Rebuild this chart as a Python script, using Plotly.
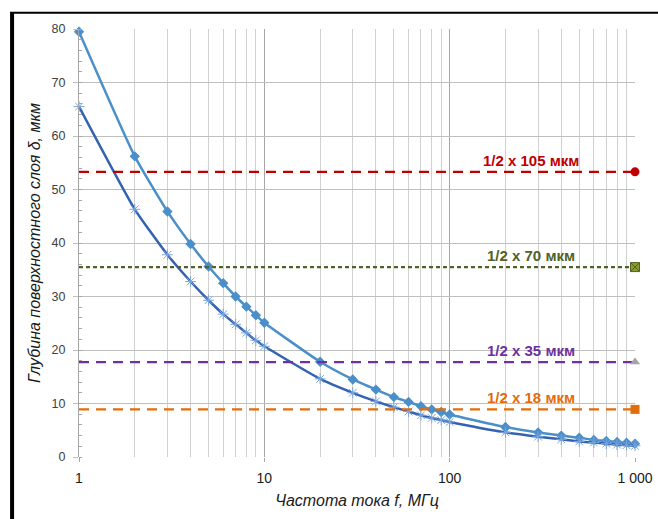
import plotly.graph_objects as go
import math

freq = [1, 2, 3, 4, 5, 6, 7, 8, 9, 10, 20, 30, 40, 50, 60, 70, 80, 90, 100,
        200, 300, 400, 500, 600, 700, 800, 900, 1000]
depth_light = [79.5, 56.2, 45.9, 39.8, 35.6, 32.5, 30.0, 28.1, 26.5, 25.1,
               17.8, 14.5, 12.6, 11.2, 10.3, 9.5, 8.9, 8.4, 7.95,
               5.6, 4.6, 4.0, 3.6, 3.2, 3.0, 2.8, 2.65, 2.5]
depth_dark = [65.5, 46.3, 37.8, 32.8, 29.3, 26.7, 24.8, 23.2, 21.8, 20.7,
              14.6, 12.0, 10.4, 9.3, 8.5, 7.8, 7.3, 6.9, 6.55,
              4.6, 3.8, 3.3, 2.9, 2.7, 2.5, 2.3, 2.2, 2.1]

ref_labels = ["1/2 x 105 мкм", "1/2 x 70 мкм", "1/2 x 35 мкм", "1/2 x 18 мкм"]
ref_values = [53.3, 35.5, 17.75, 8.9]
ref_colors = ["#C00000", "#4F6228", "#7030A0", "#E46C0A"]
ref_marker_symbols = ["circle", "square-x", "triangle-up", "square"]
ref_marker_colors = ["#C00000", "#8C9A2A", "#A5A5A5", "#E46C0A"]
ref_dashlen = ["10px,7px", "4px,3px", "10px,7px", "10px,7px"]

x_tick_vals = [1, 10, 100, 1000]
x_tick_text = ["1", "10", "100", "1 000"]
y_tick_vals = [0, 10, 20, 30, 40, 50, 60, 70, 80]

fig = go.Figure()

fig.add_trace(go.Scatter(
    x=freq, y=depth_light, mode="lines+markers",
    line=dict(color="#4A8FC9", width=2.5, shape="spline", smoothing=0.5),
    marker=dict(symbol="diamond", size=8, color="#4A8FC9"),
    showlegend=False, cliponaxis=False))
fig.add_trace(go.Scatter(
    x=freq, y=depth_dark, mode="lines+markers",
    line=dict(color="#3462B2", width=2.5, shape="spline", smoothing=0.5),
    marker=dict(symbol="asterisk-open", size=9, color="#7AA6DE",
                line=dict(color="#7AA6DE", width=1)),
    showlegend=False, cliponaxis=False))

for lab, val, col, sym, mcol, dl in zip(ref_labels, ref_values, ref_colors,
                                         ref_marker_symbols, ref_marker_colors,
                                         ref_dashlen):
    fig.add_trace(go.Scatter(
        x=[freq[0], freq[-1]], y=[val, val], mode="lines",
        line=dict(color=col, width=2.2, dash=dl),
        showlegend=False, cliponaxis=False))
    mline = dict(color="#4F6228", width=1) if sym == "square-x" else dict(width=0)
    fig.add_trace(go.Scatter(
        x=[freq[-1]], y=[val], mode="markers",
        marker=dict(symbol=sym, size=9, color=mcol, line=mline),
        showlegend=False, cliponaxis=False))
    fig.add_annotation(
        x=math.log10(275), y=val, xref="x", yref="y", text="<b>" + lab + "</b>",
        showarrow=False, yanchor="bottom", yshift=1,
        font=dict(family="Liberation Sans, Arial", size=15, color=col))

# outer frame (left and top border)
fig.add_shape(type="line", xref="paper", yref="paper",
              x0=(12 - 79) / 556.6, x1=(12 - 79) / 556.6,
              y0=(456.7 - 13) / 427.4, y1=(456.7 - 525) / 427.4,
              line=dict(color="black", width=4))
fig.add_shape(type="line", xref="paper", yref="paper",
              x0=(10 - 79) / 556.6, x1=(665 - 79) / 556.6,
              y0=(456.7 - 13) / 427.4, y1=(456.7 - 13) / 427.4,
              line=dict(color="black", width=2))

fig.update_layout(
    width=658, height=519,
    margin=dict(l=79, r=23, t=29, b=62),
    paper_bgcolor="white", plot_bgcolor="white",
    font=dict(family="Liberation Sans, Arial", color="#404040"),
    xaxis=dict(
        type="log", range=[0, 3], automargin=False,
        tickvals=x_tick_vals, ticktext=x_tick_text,
        tickfont=dict(size=14, color="#1a1a1a"),
        showgrid=True, gridcolor="#A6A6A6", gridwidth=1.3,
        ticks="outside", ticklen=4, tickcolor="#A6A6A6",
        showline=False, zeroline=False,
        minor=dict(showgrid=True, gridcolor="#D0D0D0", gridwidth=1,
                   dtick="D1", ticks=""),
        ticklabelstandoff=4,
        title=dict(text="<i>Частота тока f, МГц</i>", standoff=10,
                   font=dict(size=16, color="#1a1a1a")),
    ),
    yaxis=dict(
        range=[0, 80], tickvals=y_tick_vals, automargin=False,
        tickfont=dict(size=12.5, color="#404040"),
        showgrid=True, gridcolor="#BFBFBF", gridwidth=1.3,
        ticks="outside", ticklen=5, tickcolor="#BFBFBF",
        showline=True, linecolor="#A6A6A6", linewidth=1,
        zeroline=False,
        minor=dict(dtick=2, ticks="inside", ticklen=3, tickcolor="#A6A6A6",
                   showgrid=False),
        ticklabelstandoff=5,
        title=dict(text="<i>Глубина поверхностного слоя δ, мкм</i>", standoff=6,
                   font=dict(size=16, color="#1a1a1a")),
    ),
)

fig.write_html("out.html", config={"displayModeBar": False},
               post_script="document.body.style.margin='0';document.body.style.padding='0';")
